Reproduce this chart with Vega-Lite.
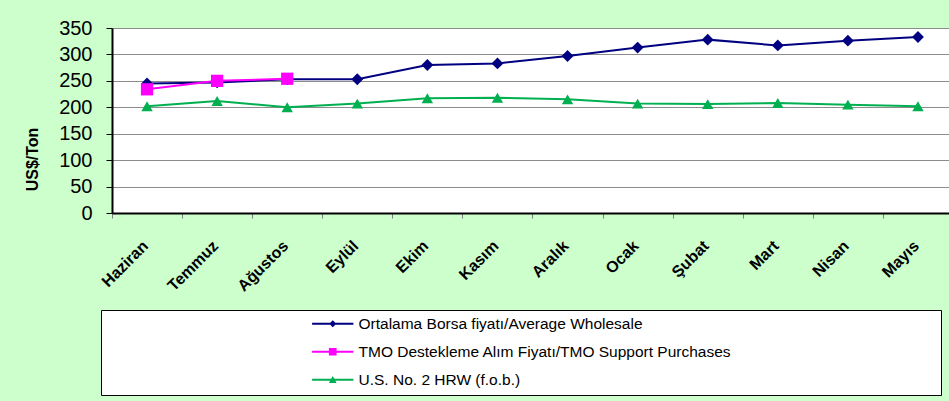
{
  "$schema": "https://vega.github.io/schema/vega-lite/v6.json",
  "width": 837,
  "height": 185,
  "autosize": {"type": "none"},
  "padding": {"left": 112, "top": 28, "right": 0, "bottom": 188},
  "background": "#CCFFCC",
  "config": {"view": {"stroke": null, "fill": "white"}, "font": "Liberation Sans"},
  "data": {"values": [
    {"month": "Haziran", "series": "Ortalama Borsa fiyatı/Average Wholesale", "value": 245},
    {"month": "Temmuz", "series": "Ortalama Borsa fiyatı/Average Wholesale", "value": 247},
    {"month": "Ağustos", "series": "Ortalama Borsa fiyatı/Average Wholesale", "value": 253},
    {"month": "Eylül", "series": "Ortalama Borsa fiyatı/Average Wholesale", "value": 253},
    {"month": "Ekim", "series": "Ortalama Borsa fiyatı/Average Wholesale", "value": 280},
    {"month": "Kasım", "series": "Ortalama Borsa fiyatı/Average Wholesale", "value": 283},
    {"month": "Aralık", "series": "Ortalama Borsa fiyatı/Average Wholesale", "value": 297},
    {"month": "Ocak", "series": "Ortalama Borsa fiyatı/Average Wholesale", "value": 313},
    {"month": "Şubat", "series": "Ortalama Borsa fiyatı/Average Wholesale", "value": 328},
    {"month": "Mart", "series": "Ortalama Borsa fiyatı/Average Wholesale", "value": 317},
    {"month": "Nisan", "series": "Ortalama Borsa fiyatı/Average Wholesale", "value": 326},
    {"month": "Mayıs", "series": "Ortalama Borsa fiyatı/Average Wholesale", "value": 333},
    {"month": "Haziran", "series": "TMO Destekleme Alım Fiyatı/TMO Support Purchases", "value": 234},
    {"month": "Temmuz", "series": "TMO Destekleme Alım Fiyatı/TMO Support Purchases", "value": 250},
    {"month": "Ağustos", "series": "TMO Destekleme Alım Fiyatı/TMO Support Purchases", "value": 254},
    {"month": "Haziran", "series": "U.S. No. 2 HRW  (f.o.b.)", "value": 202},
    {"month": "Temmuz", "series": "U.S. No. 2 HRW  (f.o.b.)", "value": 212},
    {"month": "Ağustos", "series": "U.S. No. 2 HRW  (f.o.b.)", "value": 200},
    {"month": "Eylül", "series": "U.S. No. 2 HRW  (f.o.b.)", "value": 207},
    {"month": "Ekim", "series": "U.S. No. 2 HRW  (f.o.b.)", "value": 217},
    {"month": "Kasım", "series": "U.S. No. 2 HRW  (f.o.b.)", "value": 218},
    {"month": "Aralık", "series": "U.S. No. 2 HRW  (f.o.b.)", "value": 215},
    {"month": "Ocak", "series": "U.S. No. 2 HRW  (f.o.b.)", "value": 207},
    {"month": "Şubat", "series": "U.S. No. 2 HRW  (f.o.b.)", "value": 206},
    {"month": "Mart", "series": "U.S. No. 2 HRW  (f.o.b.)", "value": 208},
    {"month": "Nisan", "series": "U.S. No. 2 HRW  (f.o.b.)", "value": 205},
    {"month": "Mayıs", "series": "U.S. No. 2 HRW  (f.o.b.)", "value": 202}
  ]},
  "encoding": {
    "x": {
      "field": "month", "type": "nominal",
      "sort": ["Haziran", "Temmuz", "Ağustos", "Eylül", "Ekim", "Kasım", "Aralık", "Ocak", "Şubat", "Mart", "Nisan", "Mayıs"],
      "scale": {"range": [0, 841], "paddingInner": 0, "paddingOuter": 0},
      "axis": {
        "title": null, "labelAngle": -45, "labelAlign": "right", "labelBaseline": "middle",
        "labelFontWeight": "bold", "labelFontSize": 16, "labelColor": "black", "labelPadding": 25, "labelOffset": -2,
        "tickBand": "extent", "tickColor": "#808080", "tickSize": 5,
        "domainColor": "black", "domainWidth": 2, "grid": false
      }
    },
    "y": {
      "field": "value", "type": "quantitative",
      "scale": {"domain": [0, 350], "nice": false},
      "axis": {
        "title": "US$/Ton", "titleFontSize": 16, "titleFontWeight": "bold", "titleColor": "black",
        "titleAngle": -90, "titleX": -80, "titleY": 131, "titleAlign": "center", "titleBaseline": "middle",
        "values": [0, 50, 100, 150, 200, 250, 300, 350],
        "labelFontSize": 20, "labelColor": "black", "labelPadding": 14,
        "tickColor": "black", "tickSize": 6, "domainColor": "black", "domainWidth": 2,
        "grid": true, "gridColor": "#8C8C8C", "gridWidth": 1
      }
    },
    "color": {
      "field": "series", "type": "nominal", "title": " ",
      "scale": {
        "domain": ["Ortalama Borsa fiyatı/Average Wholesale", "TMO Destekleme Alım Fiyatı/TMO Support Purchases", "U.S. No. 2 HRW  (f.o.b.)"],
        "range": ["#000080", "#FF00FF", "#00B050"]
      },
      "legend": {
        "orient": "none", "legendX": -11, "legendY": 282,
        "title": " ", "titleOrient": "right", "titlePadding": 204,
        "padding": 6, "fillColor": "white", "strokeColor": "black",
        "labelFont": "Liberation Sans", "labelFontSize": 15.5, "labelColor": "black", "labelLimit": 600,
        "symbolOffset": 218, "labelOffset": 18, "rowPadding": 11, "symbolSize": 49,
        "symbolStrokeWidth": 0, "symbolOpacity": 1
      }
    }
  },
  "layer": [
    {"mark": {"type": "line", "strokeWidth": 2}},
    {
      "transform": [{"filter": "datum.series === 'Ortalama Borsa fiyatı/Average Wholesale'"}],
      "mark": {"type": "point", "filled": true, "opacity": 1, "size": 140, "shape": "diamond"}
    },
    {
      "transform": [{"filter": "datum.series === 'TMO Destekleme Alım Fiyatı/TMO Support Purchases'"}],
      "mark": {"type": "point", "filled": true, "opacity": 1, "size": 150, "shape": "square"}
    },
    {
      "transform": [{"filter": "datum.series === 'U.S. No. 2 HRW  (f.o.b.)'"}],
      "mark": {"type": "point", "filled": true, "opacity": 1, "size": 130, "shape": "triangle-up"}
    },
    {
      "transform": [{"filter": "false"}],
      "mark": {"type": "point", "filled": true, "opacity": 1},
      "encoding": {
        "shape": {
          "field": "series", "type": "nominal", "title": " ",
          "scale": {
            "domain": ["Ortalama Borsa fiyatı/Average Wholesale", "TMO Destekleme Alım Fiyatı/TMO Support Purchases", "U.S. No. 2 HRW  (f.o.b.)"],
            "range": [
              "M-5.9,-0.28L5.9,-0.28L5.9,0.28L-5.9,0.28ZM0,-1L1,0L0,1L-1,0Z",
              "M-5.9,-0.28L5.9,-0.28L5.9,0.28L-5.9,0.28ZM-1.1,-1.1L1.1,-1.1L1.1,1.1L-1.1,1.1Z",
              "M-5.9,-0.28L5.9,-0.28L5.9,0.28L-5.9,0.28ZM0,-1.1L1.1,0.9L-1.1,0.9Z"
            ]
          },
          "legend": {
            "orient": "none", "legendX": -11, "legendY": 282,
            "title": " ", "titleOrient": "right", "titlePadding": 204,
            "padding": 6, "fillColor": "white", "strokeColor": "black",
            "labelFont": "Liberation Sans", "labelFontSize": 15.5, "labelColor": "black", "labelLimit": 600,
            "symbolOffset": 218, "labelOffset": 18, "rowPadding": 11, "symbolSize": 49,
            "symbolStrokeWidth": 0, "symbolOpacity": 1
          }
        }
      }
    }
  ]
}
